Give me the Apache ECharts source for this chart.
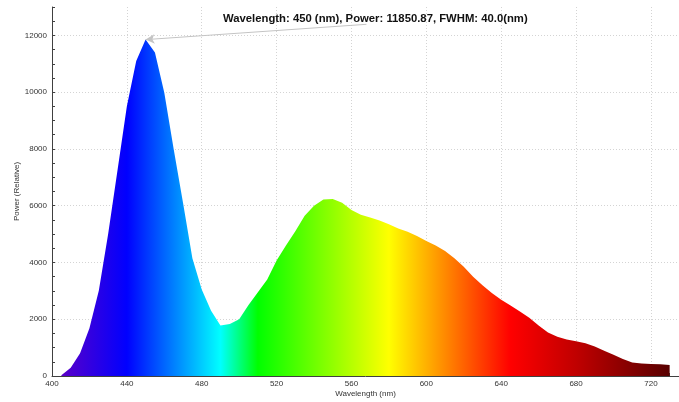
<!DOCTYPE html>
<html lang="en">
<head>
    <meta charset="UTF-8">
    <title>Spectrum</title>
    <script src="https://cdn.jsdelivr.net/npm/echarts@6/dist/echarts.min.js"></script>
    <style>
        html, body { margin: 0; padding: 0; background: #fff; }
    </style>
</head>
<body>
    <div id="main" style="width: 679px;height:402px;"></div>
    <script type="text/javascript">
    // spectrum samples (nm, relative power)
    var wavelengths = [405, 410, 415, 420, 425, 430, 435, 440, 445, 450, 455, 460, 465, 470, 475,
        480, 485, 490, 495, 500, 505, 510, 515, 520, 525, 530, 535, 540, 545, 550, 555, 560, 565,
        570, 575, 580, 585, 590, 595, 600, 605, 610, 615, 620, 625, 630, 635, 640, 645, 650, 655,
        660, 665, 670, 675, 680, 685, 690, 695, 700, 705, 710, 715, 720, 725, 730];
    var power = [30, 290, 800, 1680, 3000, 5000, 7250, 9500, 11100, 11850.87, 11400, 9980, 8000, 6100, 4150,
        3050, 2300, 1780, 1830, 2000, 2500, 2950, 3400, 4070, 4600, 5100, 5650, 6000, 6220, 6240, 6100, 5850, 5680,
        5580, 5480, 5350, 5200, 5080, 4930, 4760, 4600, 4400, 4150, 3850, 3500, 3200, 2920, 2690, 2480, 2270, 2050,
        1780, 1530, 1380, 1290, 1220, 1150, 1040, 890, 750, 600, 480, 440, 425, 410, 390];

    var fwhm = 40.0;

    // colour of the fill at some wavelengths
    var colorNm = [405, 440, 490, 510, 580, 645, 680, 730];
    var colorHex = ['#5a00c8', '#0000ff', '#00ffff', '#00ff00', '#ffff00', '#ff0000', '#c00000', '#580000'];

    var peakIdx = power.indexOf(Math.max.apply(null, power));
    var peakNm = wavelengths[peakIdx];
    var peakPower = power[peakIdx];
    var labelText = 'Wavelength: ' + peakNm + ' (nm), Power: ' + peakPower.toFixed(2) +
        ', FWHM: ' + fwhm.toFixed(1) + '(nm)';
    // where the pointer line leaves the label
    var pointerFrom = [568, 12390];

    var nmMin = wavelengths[0];
    var nmMax = wavelengths[wavelengths.length - 1];
    var stops = colorNm.map(function (nm, i) {
        return { offset: (nm - nmMin) / (nmMax - nmMin), color: colorHex[i] };
    });

    var data = wavelengths.map(function (nm, i) { return [nm, power[i]]; });

    var myChart = echarts.init(document.getElementById('main'));

    var axisColor = '#404040';
    var gridLine = { show: true, showMaxLine: false, lineStyle: { color: '#d4d4d4', type: [1, 2], width: 1 } };
    var labelFont = { fontFamily: 'Liberation Sans', fontSize: 8, color: '#333' };

    var option = {
        animation: false,
        title: {
            text: labelText,
            left: 218,
            top: 8,
            textStyle: { fontFamily: 'Liberation Sans', fontSize: 11.3, fontWeight: 'bold', color: '#111' }
        },
        grid: { left: 52, right: 0, top: 7, bottom: 26, outerBoundsMode: 'none' },
        xAxis: [{
            type: 'value',
            min: 400,
            max: 735,
            interval: 10,
            name: 'Wavelength (nm)',
            nameLocation: 'middle',
            nameGap: 14,
            nameMoveOverlap: false,
            nameTextStyle: labelFont,
            axisLine: { show: true, lineStyle: { color: axisColor } },
            axisTick: { show: true, inside: true, length: 3, lineStyle: { color: axisColor } },
            axisLabel: Object.assign({ margin: 4, showMaxLabel: false,
                formatter: function (v) { return v % 40 === 0 ? v : ''; } }, labelFont),
            splitLine: { show: false }
        }, {
            type: 'value',
            min: 400,
            max: 735,
            interval: 40,
            position: 'top',
            axisLine: { show: false },
            axisTick: { show: false },
            axisLabel: { show: false },
            splitLine: gridLine
        }],
        yAxis: [{
            type: 'value',
            min: 0,
            max: 13000,
            interval: 500,
            name: 'Power (Relative)',
            nameLocation: 'middle',
            nameGap: 31,
            nameMoveOverlap: false,
            nameTextStyle: labelFont,
            axisLine: { show: true, lineStyle: { color: axisColor } },
            axisTick: { show: true, inside: true, length: 3, lineStyle: { color: axisColor } },
            axisLabel: Object.assign({ margin: 5,
                formatter: function (v) { return v % 2000 === 0 ? v : ''; } }, labelFont),
            splitLine: { show: false }
        }, {
            type: 'value',
            min: 0,
            max: 13000,
            interval: 2000,
            position: 'right',
            axisLine: { show: false },
            axisTick: { show: false },
            axisLabel: { show: false },
            splitLine: gridLine
        }],
        series: [{
            type: 'line',
            data: data,
            symbol: 'none',
            lineStyle: { width: 0 },
            areaStyle: {
                opacity: 1,
                color: new echarts.graphic.LinearGradient(0, 0, 1, 0, stops)
            },
            markLine: {
                silent: true,
                symbol: ['none', 'arrow'],
                symbolSize: [7, 9],
                label: { show: false },
                lineStyle: { color: '#c4c4c4', width: 1, type: 'solid' },
                data: [[{ coord: pointerFrom }, { coord: [peakNm, peakPower] }]]
            }
        }]
    };

    myChart.setOption(option);
    </script>
</body>
</html>
